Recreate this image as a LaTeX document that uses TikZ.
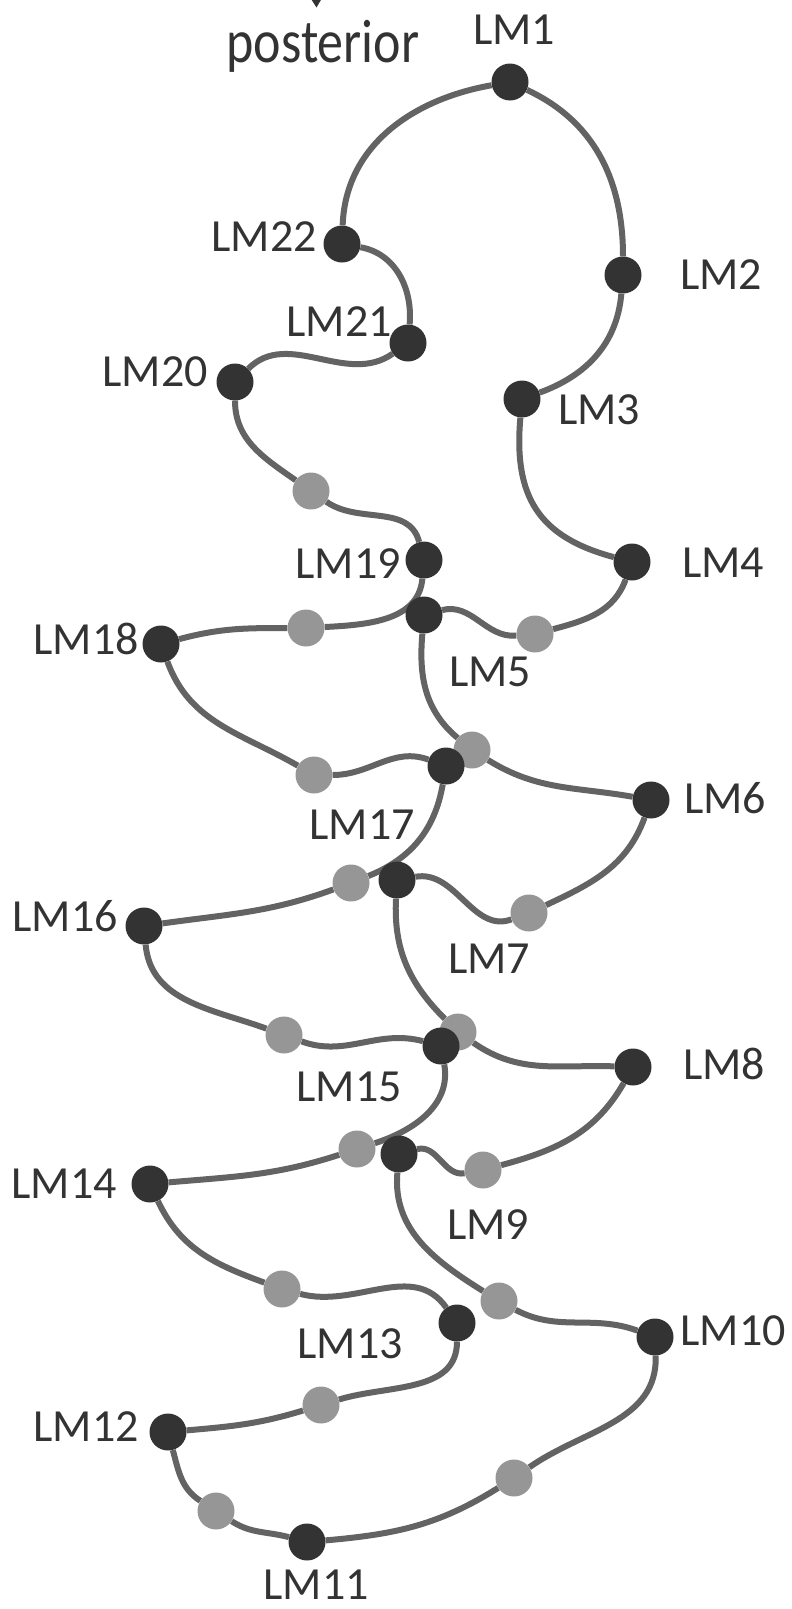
\documentclass[tikz,border=0pt]{standalone}
\usepackage{fontspec}
\usepackage{graphicx}
\setmainfont{Carlito}
\usetikzlibrary{backgrounds}
\definecolor{linec}{HTML}{636363}
\definecolor{darkc}{HTML}{333333}
\definecolor{lightc}{HTML}{969696}
\definecolor{textc}{HTML}{333333}
\tikzset{
  dk/.style={circle, fill=darkc, minimum size=37pt, inner sep=0pt},
  lt/.style={circle, fill=lightc, minimum size=37pt, inner sep=0pt},
  lbl/.style={text=textc, inner sep=0pt, font=\fontsize{46}{55}\selectfont},
  conn/.style={draw=linec, line width=6pt}
}
\begin{document}
\begin{tikzpicture}[x=1pt,y=1pt]
\useasboundingbox (0,0) rectangle (792,-1609);
% arrow tip (cut at the top)
\fill[textc] (311.7,0) -- (320.9,0) -- (316.5,-7.5) -- cycle;
\node[lbl, anchor=base] (post) at (323,-62) {\fontsize{52}{60}\selectfont\scalebox{1}[1.18]{posterior}};
% light landmarks
\node[lt] (g1) at (311,-491) {};
\node[lt] (g2) at (306,-628) {};
\node[lt] (g3) at (535,-634) {};
\node[lt] (g4) at (314,-775) {};
\node[lt] (g5) at (472,-750) {};
\node[lt] (g6) at (351,-883) {};
\node[lt] (g7) at (529,-913) {};
\node[lt] (g8) at (284,-1035) {};
\node[lt] (g9) at (458,-1032) {};
\node[lt] (g10) at (357,-1149) {};
\node[lt] (g11) at (483,-1170) {};
\node[lt] (g12) at (282,-1289) {};
\node[lt] (g13) at (499,-1301) {};
\node[lt] (g14) at (321,-1405) {};
\node[lt] (g15) at (514,-1478) {};
\node[lt] (g16) at (216,-1511) {};
% dark landmarks
\node[dk] (n1) at (510,-82) {};
\node[dk] (n2) at (623,-275) {};
\node[dk] (n3) at (522,-399) {};
\node[dk] (n4) at (632,-562) {};
\node[dk] (n5) at (424,-615) {};
\node[dk] (n6) at (651,-800) {};
\node[dk] (n7) at (397,-880) {};
\node[dk] (n8) at (633,-1067) {};
\node[dk] (n9) at (399,-1154) {};
\node[dk] (n10) at (655,-1337) {};
\node[dk] (n11) at (307,-1542) {};
\node[dk] (n12) at (168,-1432) {};
\node[dk] (n13) at (457,-1323) {};
\node[dk] (n14) at (150,-1184) {};
\node[dk] (n15) at (441,-1046) {};
\node[dk] (n16) at (144,-926) {};
\node[dk] (n17) at (446,-766) {};
\node[dk] (n18) at (161,-644) {};
\node[dk] (n19) at (424,-560) {};
\node[dk] (n20) at (235,-382) {};
\node[dk] (n21) at (408,-343) {};
\node[dk] (n22) at (342,-244) {};
% labels
\node[lbl] (l1) at (514,-30) {LM1};
\node[lbl] (l2) at (721,-275) {LM2};
\node[lbl] (l3) at (599,-410) {LM3};
\node[lbl] (l4) at (723,-563) {LM4};
\node[lbl] (l5) at (490,-672) {LM5};
\node[lbl] (l6) at (725,-798) {LM6};
\node[lbl] (l7) at (489,-959) {LM7};
\node[lbl] (l8) at (724,-1064) {LM8};
\node[lbl] (l9) at (488,-1225) {LM9};
\node[lbl] (l10) at (733,-1331) {LM10};
\node[lbl] (l11) at (316,-1585) {LM11};
\node[lbl] (l12) at (86,-1427) {LM12};
\node[lbl] (l13) at (350,-1344) {LM13};
\node[lbl] (l14) at (64,-1184) {LM14};
\node[lbl] (l15) at (349,-1087) {LM15};
\node[lbl] (l16) at (65,-916) {LM16};
\node[lbl] (l17) at (362,-825) {LM17};
\node[lbl] (l18) at (86,-639) {LM18};
\node[lbl] (l19) at (348,-564) {LM19};
\node[lbl] (l20) at (155,-372) {LM20};
\node[lbl] (l21) at (339,-322) {LM21};
\node[lbl] (l22) at (264,-237) {LM22};
% outline
\begin{scope}[on background layer]
\draw[conn] (n1) to[out=-25,in=90] (n2)
  to[out=-95,in=20] (n3)
  to[out=-95,in=165,looseness=1.2] (n4)
  to[out=-110,in=15] (g3)
  to[out=185,in=15] (n5)
  to[out=-95,in=140] (g5)
  to[out=-32,in=170] (n6)
  to[out=-110,in=25] (g7)
  to[out=200,in=10] (n7)
  to[out=-93,in=135] (g9)
  to[out=-35,in=178] (n8)
  to[out=-120,in=15] (g11)
  to[out=190,in=15] (n9)
  to[out=-95,in=148] (g13)
  to[out=-28,in=160] (n10)
  to[out=-88,in=35] (g15)
  to[out=212,in=5] (n11)
  to[out=165,in=-33] (g16)
  to[out=147,in=-75] (n12)
  to[out=5,in=-163] (g14)
  to[out=17,in=-90] (n13)
  to[out=125,in=-15] (g12)
  to[out=160,in=-65] (n14)
  to[out=5,in=-162] (g10)
  to[out=18,in=-80] (n15)
  to[out=165,in=-20] (g8)
  to[out=160,in=-85] (n16)
  to[out=8,in=-160] (g6)
  to[out=22,in=-100] (n17)
  to[out=160,in=0] (g4)
  to[out=150,in=-70] (n18)
  to[out=15,in=180] (g2)
  to[out=3,in=-95] (n19)
  to[out=105,in=-35] (g1)
  to[out=145,in=-90] (n20)
  to[out=45,in=-145] (n21)
  to[out=85,in=-10] (n22)
  to[out=88,in=-170] (n1);
\end{scope}
\end{tikzpicture}
\end{document}
